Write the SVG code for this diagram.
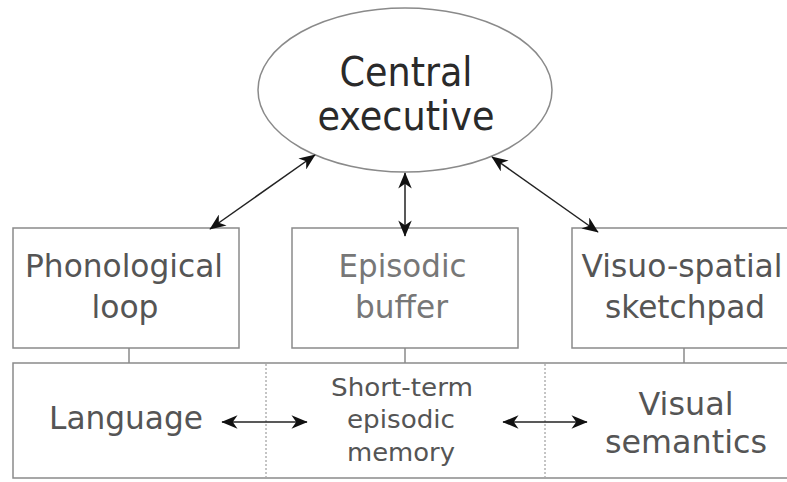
<svg xmlns="http://www.w3.org/2000/svg" width="787" height="482" viewBox="0 0 787 482">
<style>
.box{fill:#fff;stroke:#8a8a8a;stroke-width:1.5}
.t{font-family:"DejaVu Sans",sans-serif;fill:#555;text-anchor:middle}
.big{font-size:32px}
.sm{font-size:25px}
.ce{fill:#2a2a2a;font-size:41px;font-family:"DejaVu Sans Condensed","DejaVu Sans",sans-serif;font-stretch:condensed}
.lt{fill:#777}
.arr{stroke:#222;stroke-width:1.5;fill:none;marker-start:url(#ah);marker-end:url(#ah)}
.tie{stroke:#8a8a8a;stroke-width:1.5}
.dot{stroke:#8a8a8a;stroke-width:1;stroke-dasharray:2 2}
</style>
<defs>
<marker id="ah" viewBox="0 0 12 10" refX="11.5" refY="5" markerWidth="11" markerHeight="9" markerUnits="strokeWidth" orient="auto-start-reverse">
<path d="M0,0 L12,5 L0,10 L3.5,5 Z" fill="#111"/>
</marker>
</defs>
<rect width="787" height="482" fill="#fff"/>
<g id="central-executive">
<ellipse cx="405" cy="90" rx="147" ry="82" class="box"/>
<text class="t ce" x="406" y="86" textLength="133" lengthAdjust="spacingAndGlyphs">Central</text>
<text class="t ce" x="406" y="130" textLength="177" lengthAdjust="spacingAndGlyphs">executive</text>
</g>
<g id="phonological-loop">
<rect x="13" y="228" width="226" height="120" class="box"/>
<text class="t big" x="124" y="277" textLength="198" lengthAdjust="spacingAndGlyphs">Phonological</text>
<text class="t big" x="125" y="318" textLength="67" lengthAdjust="spacingAndGlyphs">loop</text>
</g>
<g id="episodic-buffer">
<rect x="292" y="228" width="226" height="120" class="box"/>
<text class="t big lt" x="402.5" y="277" textLength="128" lengthAdjust="spacingAndGlyphs">Episodic</text>
<text class="t big lt" x="401.5" y="318" textLength="93" lengthAdjust="spacingAndGlyphs">buffer</text>
</g>
<g id="visuo-spatial-sketchpad">
<rect x="572" y="228" width="226" height="120" class="box"/>
<text class="t big" x="682" y="277" textLength="201" lengthAdjust="spacingAndGlyphs">Visuo-spatial</text>
<text class="t big" x="685" y="318" textLength="160" lengthAdjust="spacingAndGlyphs">sketchpad</text>
</g>
<g id="long-term">
<rect x="13" y="363" width="786" height="115" class="box"/>
<line x1="266" y1="364" x2="266" y2="477" class="dot"/>
<line x1="545" y1="364" x2="545" y2="477" class="dot"/>
</g>
<g id="language">
<text class="t big" x="126" y="429" textLength="154" lengthAdjust="spacingAndGlyphs">Language</text>
</g>
<g id="short-term-episodic-memory">
<text class="t sm" x="402" y="396" textLength="142" lengthAdjust="spacingAndGlyphs">Short-term</text>
<text class="t sm" x="401" y="428" textLength="108" lengthAdjust="spacingAndGlyphs">episodic</text>
<text class="t sm" x="401" y="461" textLength="108" lengthAdjust="spacingAndGlyphs">memory</text>
</g>
<g id="visual-semantics">
<text class="t big" x="686" y="415" textLength="95" lengthAdjust="spacingAndGlyphs">Visual</text>
<text class="t big" x="686" y="453" textLength="162" lengthAdjust="spacingAndGlyphs">semantics</text>
</g>
<g id="connectors">
<line x1="315" y1="155" x2="210" y2="229" class="arr"/>
<line x1="405" y1="173" x2="405" y2="236" class="arr"/>
<line x1="492" y1="157" x2="598" y2="232" class="arr"/>
<line x1="222" y1="422" x2="307" y2="422" class="arr"/>
<line x1="503" y1="422" x2="587" y2="422" class="arr"/>
<line x1="129" y1="348" x2="129" y2="363" class="tie"/>
<line x1="405" y1="348" x2="405" y2="363" class="tie"/>
<line x1="684" y1="348" x2="684" y2="363" class="tie"/>
</g>
</svg>
